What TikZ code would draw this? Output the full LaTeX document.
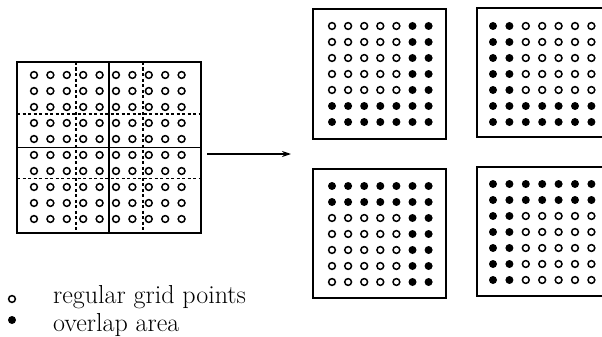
\documentclass[tikz,border=0pt]{standalone}
\usetikzlibrary{arrows.meta}
\begin{document}
\begin{tikzpicture}[x=1pt,y=-1pt,
  opendot/.style={circle,draw,line width=1.5pt,inner sep=0pt,minimum size=6.8pt},
  fulldot/.style={circle,fill,inner sep=0pt,minimum size=8pt},
  frame/.style={draw,line width=1.4pt,rectangle,inner sep=0pt},
  gridline/.style={line width=1.1pt},
  dashline/.style={line width=1.1pt,dash pattern=on 3pt off 2.5pt},
  legendtext/.style={anchor=base west,inner sep=0pt,font=\fontsize{26}{30}\selectfont}]
\useasboundingbox (0,0) rectangle (602,337);

% left grid
\node[frame,minimum width=184pt,minimum height=171pt] (L) at (109,147.5) {};
\draw[gridline] (L.north) -- (L.south);
\draw[gridline] (L.west) -- (L.east);
\draw[dashline] (76,62) -- (76,233);
\draw[dashline] (143,62) -- (143,233);
\draw[dashline] (17,114) -- (201,114);
\draw[dashline] (17,178.5) -- (201,178.5);
\foreach \i in {0,...,9}
  \foreach \j in {0,...,9}
    \node[opendot] (g-\i-\j) at ({34+16.4*\i},{75+16*\j}) {};

% arrow
\coordinate (as) at (207,154);
\coordinate (ae) at (291,154);
\draw[-{Stealth[length=9pt,width=6pt]},line width=1.2pt] (as) -- (ae);

% subgrid frames
\node[frame,minimum width=133pt,minimum height=130pt] (TL) at (379.5,74) {};
\node[frame,minimum width=163pt,minimum height=129pt] (TR) at (558.5,72.5) {};
\node[frame,minimum width=133pt,minimum height=129pt] (BL) at (379.5,233.5) {};
\node[frame,minimum width=163pt,minimum height=129pt] (BR) at (558.5,231.5) {};

% top-left subgrid
\foreach \i in {0,...,6}
  \foreach \j in {0,...,6}{
    \pgfmathtruncatemacro\f{or(\i>4,\j>4)}
    \ifnum\f=1
      \node[fulldot] (tl-\i-\j) at ({332+16.1*\i},{26+16*\j}) {};
    \else
      \node[opendot] (tl-\i-\j) at ({332+16.1*\i},{26+16*\j}) {};
    \fi}
% top-right subgrid
\foreach \i in {0,...,6}
  \foreach \j in {0,...,6}{
    \pgfmathtruncatemacro\f{or(\i<2,\j>4)}
    \ifnum\f=1
      \node[fulldot] (tr-\i-\j) at ({493+16.4*\i},{26+16*\j}) {};
    \else
      \node[opendot] (tr-\i-\j) at ({493+16.4*\i},{26+16*\j}) {};
    \fi}
% bottom-left subgrid
\foreach \i in {0,...,6}
  \foreach \j in {0,...,6}{
    \pgfmathtruncatemacro\f{or(\i>4,\j<2)}
    \ifnum\f=1
      \node[fulldot] (bl-\i-\j) at ({332+16.1*\i},{186+16*\j}) {};
    \else
      \node[opendot] (bl-\i-\j) at ({332+16.1*\i},{186+16*\j}) {};
    \fi}
% bottom-right subgrid
\foreach \i in {0,...,6}
  \foreach \j in {0,...,6}{
    \pgfmathtruncatemacro\f{or(\i<2,\j<2)}
    \ifnum\f=1
      \node[fulldot] (br-\i-\j) at ({493+16.4*\i},{184+16*\j}) {};
    \else
      \node[opendot] (br-\i-\j) at ({493+16.4*\i},{184+16*\j}) {};
    \fi}

% legend
\node[opendot] (lo) at (12,299) {};
\node[fulldot] (lf) at (12,320) {};
\node[legendtext] (t1) at (53,303) {regular grid points};
\node[legendtext] (t2) at (53,331) {overlap area};
\end{tikzpicture}
\end{document}
